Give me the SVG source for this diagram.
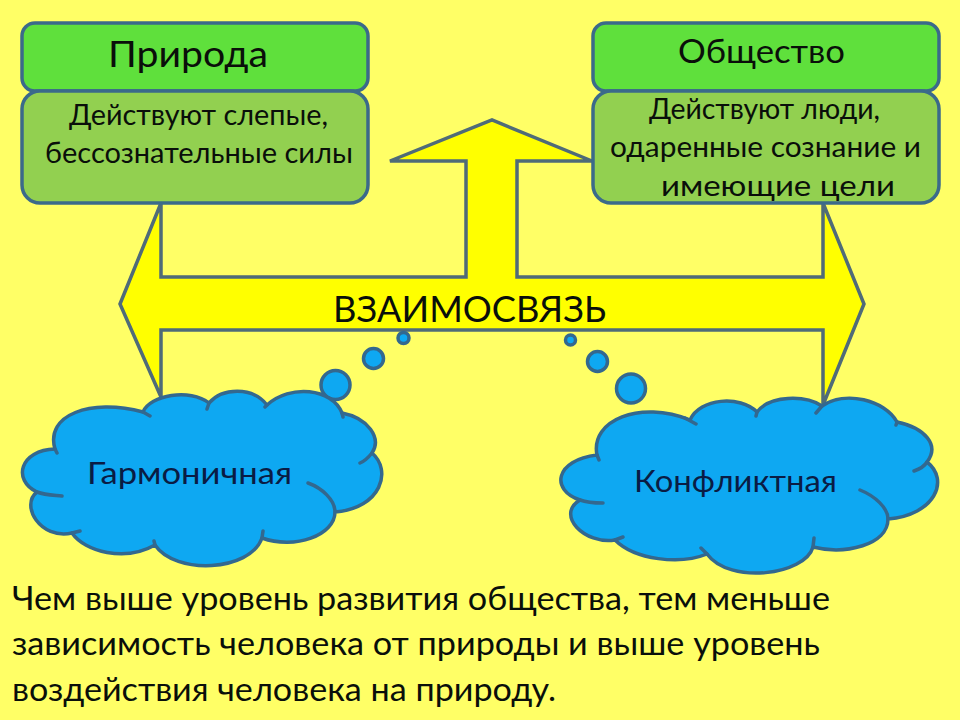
<svg xmlns="http://www.w3.org/2000/svg" width="960" height="720" viewBox="0 0 960 720">
<style>
text{font-family:"Lato","Noto Sans","Liberation Sans",sans-serif;fill:#0a0f0a;text-anchor:start}
.head{fill:#5fe03c;stroke:#3b6a8a;stroke-width:3.500}
.body{fill:#92d050;stroke:#3b6a8a;stroke-width:3.500}
.cloud{fill:#0ea8f2;stroke:#33688f;stroke-width:3.500;stroke-linejoin:round}
.fold{fill:none;stroke:#33688f;stroke-width:3.500;stroke-linecap:round}
.bub{fill:#0ea8f2;stroke:#33688f;stroke-width:3.500}
.arrow{fill:#ffff00;stroke:#4f6b78;stroke-width:3.500;stroke-linejoin:miter}
.ct{fill:#0a1c44}
</style>
<rect width="960" height="720" fill="#ffff66"/>
<g id="connectors">
<path class="arrow" d="M120,304 L161,203 L161,277 L466,277 L466,161 L390,161 L492,120 L592,161 L517,161 L517,277 L823,277 L823,203 L864,304 L823,405 L823,330 L161,330 L161,397 Z"/>
</g>
<g id="node-priroda">
<rect class="head" x="22" y="23" width="346" height="68" rx="13"/>
<text x="108" y="67" font-size="37" textLength="160" lengthAdjust="spacingAndGlyphs">Природа</text>
</g>
<g id="node-priroda-desc">
<rect class="body" x="22" y="91" width="346" height="112" rx="18"/>
<text x="69" y="125" font-size="29" textLength="259" lengthAdjust="spacingAndGlyphs">Действуют слепые,</text>
<text x="45" y="163" font-size="29" textLength="308" lengthAdjust="spacingAndGlyphs">бессознательные силы</text>
</g>
<g id="node-obshchestvo">
<rect class="head" x="593" y="23" width="346" height="68" rx="13"/>
<text x="678" y="63" font-size="33" textLength="167" lengthAdjust="spacingAndGlyphs">Общество</text>
</g>
<g id="node-obshchestvo-desc">
<rect class="body" x="593" y="91" width="346" height="112" rx="18"/>
<text x="649" y="119" font-size="29" textLength="231" lengthAdjust="spacingAndGlyphs">Действуют люди,</text>
<text x="610" y="157" font-size="29" textLength="311" lengthAdjust="spacingAndGlyphs">одаренные сознание и</text>
<text x="661" y="196" font-size="29" textLength="234" lengthAdjust="spacingAndGlyphs">имеющие цели</text>
</g>
<g id="node-vzaimosvyaz">
<text x="333" y="322" font-size="37" textLength="273" lengthAdjust="spacingAndGlyphs">ВЗАИМОСВЯЗЬ</text>
</g>
<g id="node-garmonichnaya">
<circle class="bub" cx="403.500" cy="338" r="5.500"/>
<circle class="bub" cx="373.500" cy="358.500" r="10"/>
<circle class="bub" cx="335.500" cy="385" r="14.500"/>
<path class="cloud" d="M55,449 C45,415 90,398 143,412 C150,395 190,388 209,403 C222,388 252,386 267,405 C290,384 332,388 342,413 C368,418 382,438 372,453 C392,470 382,508 335,512 C335,535 295,550 262,538 C250,572 175,575 155,545 C125,562 85,552 72,533 C40,540 20,505 37,492 C12,480 20,450 55,449 Z"/>
<path class="fold" d="M143,412 L150,416 M209,403 L207,409 M267,405 L265,407 M342,413 L343,417 M372,453 C368,458 365,461 360,463 M308,483 C322,488 335,500 335,512 M262,538 L263,531 M155,545 L154,541 M72,533 L80,531 M37,492 C45,495 52,495 62,496 M55,449 L57,453"/>
<text class="ct" x="87" y="484" font-size="31" textLength="205" lengthAdjust="spacingAndGlyphs">Гармоничная</text>
</g>
<g id="node-konfliktnaya">
<circle class="bub" cx="570.500" cy="340" r="5"/>
<circle class="bub" cx="597.500" cy="361.500" r="10"/>
<circle class="bub" cx="631" cy="388.500" r="14.500"/>
<path class="cloud" d="M597,455 C590,420 640,400 690,420 C700,398 740,395 757,412 C770,395 805,395 822,406 C845,390 885,400 897,422 C925,428 940,445 927,462 C950,480 935,515 888,519 C888,545 845,555 813,547 C805,575 730,585 707,554 C680,565 635,560 615,540 C585,545 555,515 580,500 C550,490 555,460 597,455 Z"/>
<path class="fold" d="M685,418 L696,424 M757,412 L756,416 M822,406 L816,413 M897,422 L896,425 M927,462 C924,467 920,469 914,471 M860,490 C875,496 888,508 888,519 M813,547 L814,538 M707,554 L701,548 M615,540 L623,537 M580,500 C588,503 595,503 603,503 M597,455 L599,460"/>
<text class="ct" x="634" y="492" font-size="31" textLength="203" lengthAdjust="spacingAndGlyphs">Конфликтная</text>
</g>
<g id="node-note">
<text x="12" y="610" font-size="33" textLength="818" lengthAdjust="spacingAndGlyphs">Чем выше уровень развития общества, тем меньше</text>
<text x="12" y="655" font-size="33" textLength="808" lengthAdjust="spacingAndGlyphs">зависимость человека от природы и выше уровень</text>
<text x="12" y="701" font-size="33" textLength="544" lengthAdjust="spacingAndGlyphs">воздействия человека на природу.</text>
</g>
</svg>
